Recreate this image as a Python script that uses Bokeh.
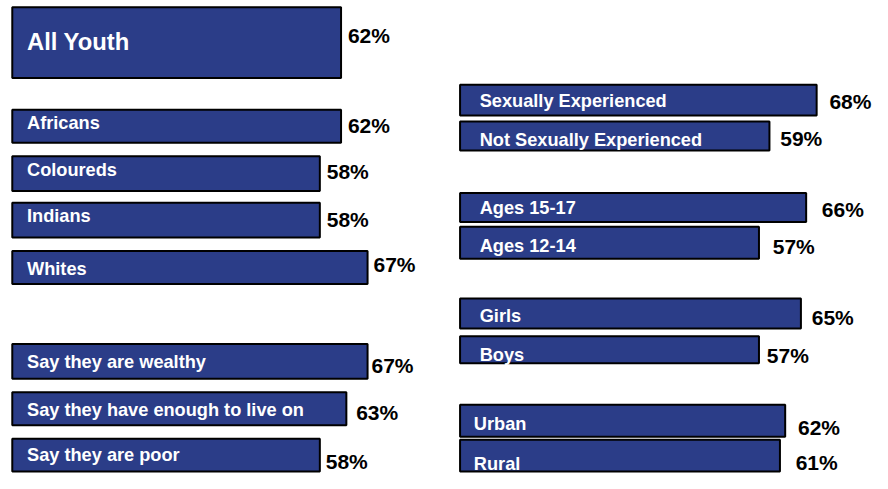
from bokeh.plotting import figure
from bokeh.models import Range1d, ColumnDataSource
from bokeh.layouts import row
from bokeh.core.properties import value
from bokeh.embed import file_html
from bokeh.resources import INLINE

# ---- data ----
left_labels = ["All Youth", "Africans", "Coloureds", "Indians", "Whites",
               "Say they are wealthy", "Say they have enough to live on", "Say they are poor"]
left_values = [62, 62, 58, 58, 67, 67, 63, 58]

right_labels = ["Sexually Experienced", "Not Sexually Experienced", "Ages 15-17", "Ages 12-14",
                "Girls", "Boys", "Urban", "Rural"]
right_values = [68, 59, 66, 57, 65, 57, 62, 61]

# ---- layout (vertical positions, in rows of a 489-row canvas) ----
left_top = [7, 113, 161, 209, 259, 355, 405, 453]
left_bottom = [80, 147, 197, 245, 293, 391, 439, 487]
left_label_y = [42, 127, 175, 223, 278, 374, 423, 470]
left_value_y = [36, 129, 177, 226, 273, 377, 426, 477]
left_value_gap = [7, 7, 7, 7, 6, 4, 10, 6]
left_label_size = ["23.8px"] + ["18.2px"] * 7
left_label_off = [15] * 8

right_top = [87, 125, 199, 234, 308, 347, 418, 454]
right_bottom = [119, 155, 229, 267, 339, 375, 451, 487]
right_label_y = [104, 144, 215, 254, 326, 367, 438, 479]
right_value_y = [104, 143, 216, 254, 328, 367, 441, 478]
right_value_gap = [13, 11, 16, 14, 11, 8, 13, 16]
right_label_size = ["18.2px"] * 8
right_label_off = [20, 20, 20, 20, 20, 20, 14, 14]

BAR = "#2B3D88"
FONT = value("Liberation Sans")
W = 436
H = 473
SX = 872 / 888


def make_panel(x0, x1, labels, vals, top, bottom, ly, vy, gap, lsize, loff):
    p = figure(width=W, height=H, x_range=Range1d(x0, x1), y_range=Range1d(489, 0),
               output_backend="svg", toolbar_location=None, min_border=0)
    p.axis.visible = False
    p.grid.visible = False
    p.outline_line_color = None
    p.background_fill_color = "white"
    p.border_fill_color = "white"
    src = ColumnDataSource(dict(
        label=labels, val=vals, left=[0] * len(vals), top=top, bottom=bottom,
        ly=ly, vy=vy, gap=[g * SX for g in gap], lsize=lsize, loff=[o * SX for o in loff],
        vtext=[f"{v}%" for v in vals],
    ))
    p.quad(left="left", right="val", top="top", bottom="bottom", source=src,
           fill_color=BAR, line_color="black", line_width=2)
    p.text(x="left", y="ly", text="label", x_offset="loff", source=src,
           text_font=FONT, text_font_style="bold", text_font_size="lsize",
           text_color="white", text_baseline="middle", text_align="left")
    p.text(x="val", y="vy", text="vtext", x_offset="gap", source=src,
           text_font=FONT, text_font_style="bold", text_font_size="21px",
           text_color="black", text_baseline="middle", text_align="left")
    return p


# left panel covers canvas columns 0..444, bars start at column 12, 5.4 columns per %
lx0 = -12 / 5.4
p1 = make_panel(lx0, lx0 + 444 / 5.4, left_labels, left_values, left_top, left_bottom,
                left_label_y, left_value_y, left_value_gap, left_label_size, left_label_off)
# right panel covers columns 444..888, bars start at column 468, 5.34 columns per %
rx0 = -(468 - 444) / 5.34
p2 = make_panel(rx0, rx0 + 444 / 5.34, right_labels, right_values, right_top, right_bottom,
                right_label_y, right_value_y, right_value_gap, right_label_size, right_label_off)

layout = row(p1, p2, spacing=0)
open("out.html", "w").write(file_html(layout, INLINE))
